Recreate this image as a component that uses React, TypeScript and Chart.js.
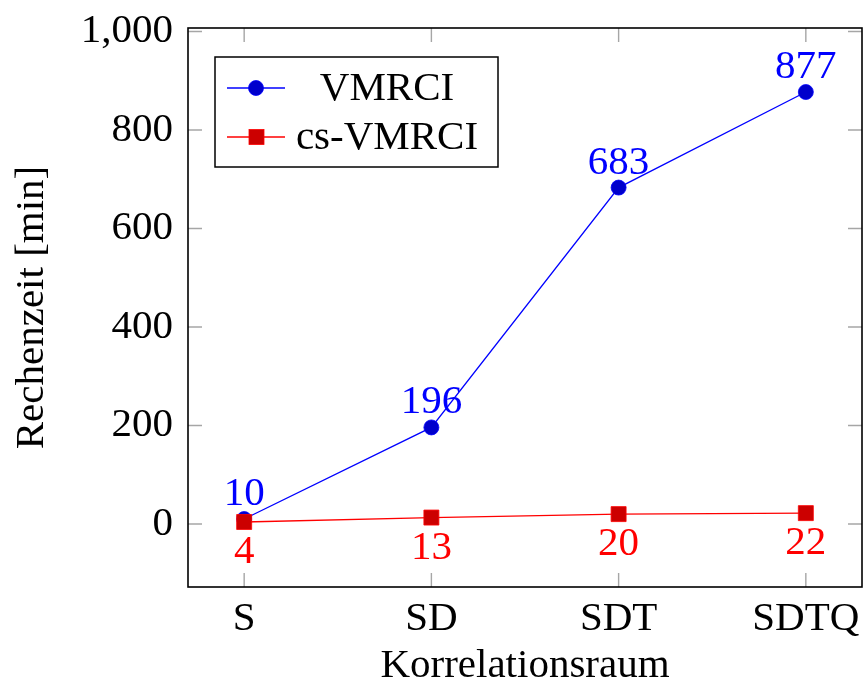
import React, { useEffect, useRef } from "react";
import { Chart, registerables } from "chart.js";

Chart.register(...registerables);

const categories = ["S", "SD", "SDT", "SDTQ"];
const vmrci = [10, 196, 683, 877];
const csVmrci = [4, 13, 20, 22];
const yTicks = [0, 200, 400, 600, 800, 1000];
const seriesNames = ["VMRCI", "cs-VMRCI"];
const xTitle = "Korrelationsraum";
const yTitle = "Rechenzeit [min]";

const FONT = "Liberation Serif";
const FS = 41;
const fontStr = `${FS}px "${FONT}"`;

const framePlugin = {
  id: "frame",
  afterDatasetsDraw(chart: any) {
    const { ctx, chartArea } = chart;
    const { left, right, top, bottom } = chartArea;
    const xs = chart.scales.x;
    const ys = chart.scales.y;
    ctx.save();

    // tick marks on all four sides, pointing inward
    ctx.strokeStyle = "#a6a6a6";
    ctx.lineWidth = 1.4;
    const tl = 14;
    ctx.beginPath();
    categories.forEach((_, i) => {
      const px = xs.getPixelForValue(i);
      ctx.moveTo(px, bottom);
      ctx.lineTo(px, bottom - tl);
      ctx.moveTo(px, top);
      ctx.lineTo(px, top + tl);
    });
    yTicks.forEach((v) => {
      const py = ys.getPixelForValue(v);
      ctx.moveTo(left, py);
      ctx.lineTo(left + tl, py);
      ctx.moveTo(right, py);
      ctx.lineTo(right - tl, py);
    });
    ctx.stroke();

    // value labels next to the markers
    ctx.font = fontStr;
    ctx.textAlign = "center";
    ctx.textBaseline = "alphabetic";
    chart.data.datasets.forEach((ds: any, di: number) => {
      const meta = chart.getDatasetMeta(di);
      meta.data.forEach((pt: any, i: number) => {
        const v = ds.data[i].y;
        ctx.fillStyle = ds.labelColor;
        const y = di === 0 ? pt.y - 14 : pt.y + 41;
        ctx.fillText(String(v), pt.x, y);
      });
    });

    // frame
    ctx.strokeStyle = "#000";
    ctx.lineWidth = 1.6;
    ctx.strokeRect(left, top, right - left, bottom - top);

    // legend
    const lx = 215, ly = 57, lw = 283, lh = 110;
    ctx.fillStyle = "#fff";
    ctx.fillRect(lx, ly, lw, lh);
    ctx.strokeStyle = "#000";
    ctx.lineWidth = 1.5;
    ctx.strokeRect(lx, ly, lw, lh);
    const rows = [88, 137];
    chart.data.datasets.forEach((ds: any, di: number) => {
      const ry = rows[di];
      ctx.strokeStyle = ds.borderColor;
      ctx.lineWidth = 1.3;
      ctx.beginPath();
      ctx.moveTo(227, ry);
      ctx.lineTo(285, ry);
      ctx.stroke();
      ctx.fillStyle = ds.pointBackgroundColor;
      ctx.strokeStyle = ds.pointBorderColor;
      ctx.lineWidth = 0.8;
      if (ds.pointStyle === "rect") {
        ctx.fillRect(249, ry - 7.5, 15, 15);
        ctx.strokeRect(249, ry - 7.5, 15, 15);
      } else {
        ctx.beginPath();
        ctx.arc(256, ry, 7.5, 0, Math.PI * 2);
        ctx.fill();
        ctx.stroke();
      }
      ctx.fillStyle = "#000";
      ctx.font = fontStr;
      ctx.textAlign = "center";
      ctx.textBaseline = "alphabetic";
      ctx.fillText(ds.label, 387, ry + 11.5);
    });

    // axis titles
    ctx.fillStyle = "#000";
    ctx.font = fontStr;
    ctx.textAlign = "center";
    ctx.textBaseline = "alphabetic";
    ctx.fillText(xTitle, (left + right) / 2, 677);
    ctx.save();
    ctx.translate(43, (top + bottom) / 2);
    ctx.rotate(-Math.PI / 2);
    ctx.fillText(yTitle, 0, 0);
    ctx.restore();

    ctx.restore();
  },
};

export default function App() {
  const ref = useRef<HTMLCanvasElement | null>(null);

  useEffect(() => {
    document.body.style.margin = "0";
    const canvas = ref.current;
    if (!canvas) return;
    const chart = new Chart(canvas, {
      type: "line",
      data: {
        datasets: [
          {
            label: seriesNames[0],
            data: vmrci.map((v, i) => ({ x: i, y: v })),
            borderColor: "#0000ff",
            borderWidth: 1.3,
            pointStyle: "circle",
            pointRadius: 7.5,
            pointBackgroundColor: "#0000cc",
            pointBorderColor: "#0000ff",
            pointBorderWidth: 0.8,
            labelColor: "#0000ff",
            order: 1,
            tension: 0,
          } as any,
          {
            label: seriesNames[1],
            data: csVmrci.map((v, i) => ({ x: i, y: v })),
            borderColor: "#ff0000",
            borderWidth: 1.3,
            pointStyle: "rect",
            pointRadius: 10.6,
            pointBackgroundColor: "#cc0000",
            pointBorderColor: "#ff0000",
            pointBorderWidth: 0.8,
            labelColor: "#ff0000",
            order: 0,
            tension: 0,
          } as any,
        ],
      },
      options: {
        responsive: false,
        animation: false,
        layout: {
          autoPadding: false,
          padding: { top: 28, right: 2, left: 0, bottom: 0 },
        },
        plugins: { legend: { display: false }, tooltip: { enabled: false } },
        scales: {
          x: {
            type: "linear",
            min: -0.3,
            max: 3.3,
            grid: { display: false, drawTicks: false },
            border: { display: false },
            afterBuildTicks: (s: any) => {
              s.ticks = categories.map((_, i) => ({ value: i }));
            },
            afterFit: (s: any) => {
              s.height = 110;
              s.paddingLeft = 0;
              s.paddingRight = 0;
            },
            ticks: {
              autoSkip: false,
              maxRotation: 0,
              padding: 8,
              color: "#000",
              font: { family: FONT, size: FS },
              callback: (v: any) => categories[v as number] ?? "",
            },
          },
          y: {
            type: "linear",
            min: -128,
            max: 1007,
            grid: { display: false, drawTicks: false },
            border: { display: false },
            afterBuildTicks: (s: any) => {
              s.ticks = yTicks.map((v) => ({ value: v }));
            },
            afterFit: (s: any) => {
              s.width = 188;
              s.paddingTop = 0;
              s.paddingBottom = 0;
            },
            ticks: {
              padding: 15,
              color: "#000",
              font: { family: FONT, size: FS },
              callback: (v: any) => Number(v).toLocaleString("en-US"),
            },
          },
        },
      },
      plugins: [framePlugin],
    });
    return () => chart.destroy();
  }, []);

  return (
    <div style={{ width: 864, height: 697, background: "#fff" }}>
      <canvas ref={ref} width={864} height={697} style={{ display: "block" }} />
    </div>
  );
}
